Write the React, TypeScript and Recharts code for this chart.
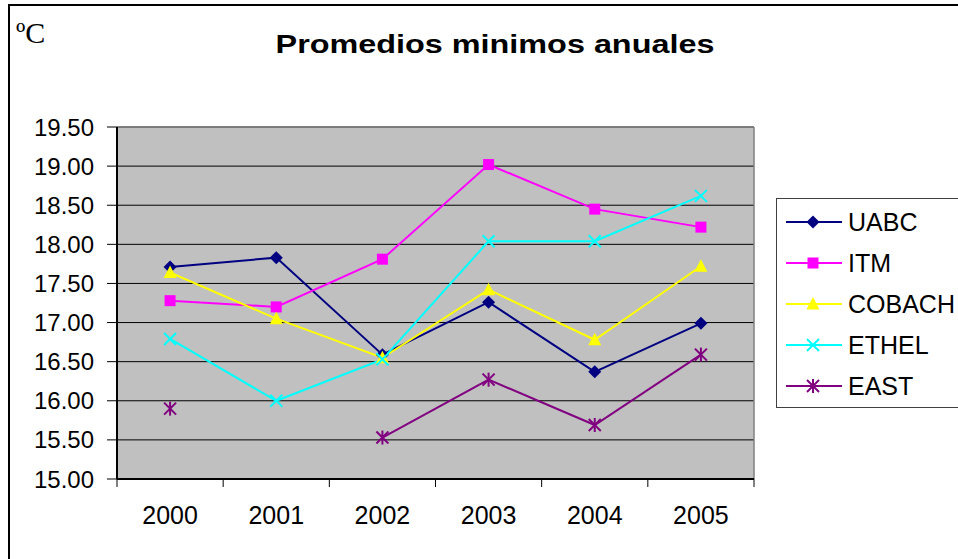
import { CartesianGrid, Legend, Line, LineChart, XAxis, YAxis } from "recharts";

const years = ["2000", "2001", "2002", "2003", "2004", "2005"];
const uabc = [17.71, 17.83, 16.59, 17.26, 16.37, 16.99];
const itm = [17.28, 17.2, 17.81, 19.02, 18.45, 18.22];
const cobach = [17.64, 17.05, 16.55, 17.42, 16.78, 17.72];
const ethel = [16.79, 16.0, 16.53, 18.04, 18.04, 18.62];
const east = [15.9, null, 15.53, 16.27, 15.69, 16.59];
const yTicks = [15, 15.5, 16, 16.5, 17, 17.5, 18, 18.5, 19, 19.5];

const series = [
  { key: "UABC", color: "#000080", shape: "diamond", values: uabc },
  { key: "ITM", color: "#FF00FF", shape: "square", values: itm },
  { key: "COBACH", color: "#FFFF00", shape: "triangle", values: cobach },
  { key: "ETHEL", color: "#00FFFF", shape: "x", values: ethel },
  { key: "EAST", color: "#800080", shape: "star", values: east },
];

const data = years.map((year, i) => {
  const row: Record<string, string | number | null> = { year };
  series.forEach((s) => (row[s.key] = s.values[i]));
  return row;
});

const SANS = "'Liberation Sans', Arial, sans-serif";

function Marker({ shape, cx, cy, color }: { shape: string; cx: number; cy: number; color: string }) {
  if (shape === "diamond")
    return <polygon points={`${cx},${cy - 6.5} ${cx + 6.5},${cy} ${cx},${cy + 6.5} ${cx - 6.5},${cy}`} fill={color} />;
  if (shape === "square") return <rect x={cx - 5.5} y={cy - 5.5} width={11} height={11} fill={color} />;
  if (shape === "triangle")
    return <polygon points={`${cx},${cy - 7} ${cx + 6.5},${cy + 5.5} ${cx - 6.5},${cy + 5.5}`} fill={color} />;
  if (shape === "x")
    return (
      <g stroke={color} strokeWidth={2}>
        <line x1={cx - 6} y1={cy - 6} x2={cx + 6} y2={cy + 6} />
        <line x1={cx - 6} y1={cy + 6} x2={cx + 6} y2={cy - 6} />
      </g>
    );
  return (
    <g stroke={color} strokeWidth={2}>
      <line x1={cx - 6} y1={cy - 6} x2={cx + 6} y2={cy + 6} />
      <line x1={cx - 6} y1={cy + 6} x2={cx + 6} y2={cy - 6} />
      <line x1={cx} y1={cy - 7} x2={cx} y2={cy + 7} />
    </g>
  );
}

function XTick(props: any) {
  const { x, y, payload } = props;
  const half = payload.offset ?? 637 / years.length / 2;
  const last = payload.index === years.length - 1;
  return (
    <g>
      <line x1={x - half} y1={y} x2={x - half} y2={y + 8} stroke="#000" />
      {last && <line x1={x + half} y1={y} x2={x + half} y2={y + 8} stroke="#000" />}
      <text x={x} y={y + 36} textAnchor="middle" dominantBaseline="central" fontSize={25} fontFamily={SANS} fill="#000">
        {payload.value}
      </text>
    </g>
  );
}

function LegendBox() {
  return (
    <div
      style={{
        width: 220,
        height: 210,
        boxSizing: "border-box",
        border: "1px solid #404040",
        background: "#fff",
        paddingTop: 2,
        fontFamily: SANS,
        fontSize: 25,
        color: "#000",
      }}
    >
      {series.map((s) => (
        <div key={s.key} style={{ height: 41, display: "flex", alignItems: "center" }}>
          <svg width={71} height={30} style={{ flex: "none" }}>
            <line x1={9} x2={65} y1={15} y2={15} stroke={s.color} strokeWidth={2} />
            <Marker shape={s.shape} cx={36} cy={15} color={s.color} />
          </svg>
          <span style={{ lineHeight: "30px" }}>{s.key}</span>
        </div>
      ))}
    </div>
  );
}

export default function App() {
  return (
    <div style={{ position: "absolute", left: 0, top: 0, width: 958, height: 559, overflow: "hidden", background: "#fff" }}>
      <div style={{ position: "absolute", left: 8, top: 4, width: 1000, height: 600, border: "2px solid #000" }} />
      <svg width={958} height={80} style={{ position: "absolute", left: 0, top: 0 }}>
        <text x={16} y={43} fontSize={30} fontFamily="'Liberation Serif', 'Times New Roman', serif" fill="#000">
          ºC
        </text>
        <text
          transform="translate(495,53) scale(1.27,1)"
          x={0}
          y={0}
          textAnchor="middle"
          fontSize={25.5}
          fontWeight="bold"
          fontFamily={SANS}
          fill="#000"
        >
          Promedios minimos anuales
        </text>
      </svg>
      <div style={{ position: "absolute", left: 0, top: 0 }}>
        <LineChart width={958} height={559} data={data} margin={{ top: 127, right: 204, bottom: 0, left: 0 }}>
          <CartesianGrid vertical={false} stroke="#000" fill="#C0C0C0" fillOpacity={1} />
          <CartesianGrid
            stroke="#808080"
            strokeWidth={1.5}
            horizontalCoordinatesGenerator={({ offset }: any) => [offset.top]}
            verticalCoordinatesGenerator={({ offset }: any) => [offset.left + offset.width]}
          />
          <XAxis
            dataKey="year"
            scale="band"
            height={80}
            tickSize={0}
            tickMargin={0}
            tickLine={false}
            axisLine={{ stroke: "#000", strokeWidth: 2 }}
            tick={<XTick />}
            interval={0}
          />
          <YAxis
            width={117}
            domain={[15, 19.5]}
            ticks={yTicks}
            tickFormatter={(v: number) => v.toFixed(2)}
            tickSize={10}
            tickMargin={13}
            tickLine={{ stroke: "#000" }}
            axisLine={{ stroke: "#000", strokeWidth: 2 }}
            tick={{ fill: "#000", fontSize: 24, fontFamily: SANS }}
            allowDataOverflow
          />
          <Legend
            layout="vertical"
            align="center"
            verticalAlign="middle"
            content={() => <LegendBox />}
            wrapperStyle={{ left: 776, top: 198, width: 220, height: 210 }}
          />
          {series.map((s) => (
            <Line
              key={s.key}
              dataKey={s.key}
              stroke={s.color}
              strokeWidth={2}
              isAnimationActive={false}
              connectNulls={false}
              dot={(p: any) =>
                p.cy == null || p.value == null ? (
                  <g key={p.key ?? p.index} />
                ) : (
                  <Marker key={p.key ?? p.index} shape={s.shape} cx={p.cx} cy={p.cy} color={s.color} />
                )
              }
              activeDot={false}
            />
          ))}
        </LineChart>
      </div>
    </div>
  );
}
